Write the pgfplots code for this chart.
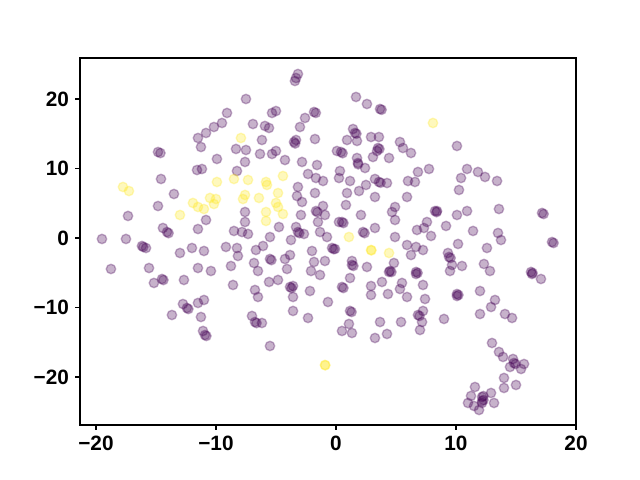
\documentclass[border=0pt]{standalone}
\usepackage{pgfplots}
\pgfplotsset{compat=1.18}
\usepackage{pgfplotstable}
\usepackage{fontspec}
\setmainfont{Liberation Sans}
\definecolor{vpurple}{HTML}{440154}
\definecolor{vyellow}{HTML}{FDE725}
\pgfplotstableread{
x y
-3.17 23.60
-3.33 23.02
-3.42 22.59
-7.50 20.00
-9.08 17.99
-14.83 12.37
-14.63 12.22
-11.50 14.39
-10.83 15.11
-11.25 13.09
-11.58 9.78
-11.17 9.93
-14.58 8.49
-9.50 16.55
-10.17 15.97
-6.92 16.40
-5.92 16.12
-5.58 15.83
-5.33 17.99
-5.00 18.27
-1.83 18.13
-1.68 18.00
-2.58 17.27
-3.00 15.97
-3.50 13.81
-3.40 13.60
-3.33 14.10
-1.75 14.24
-6.17 14.10
-8.33 12.81
-7.50 12.66
-6.33 12.09
-5.33 12.09
-5.00 12.52
-4.25 11.22
-9.92 11.37
-7.58 10.94
-8.25 9.64
-2.83 10.94
-1.58 10.50
-2.33 9.21
-1.67 8.63
-1.08 8.20
1.67 20.29
2.58 19.28
3.67 18.56
3.80 18.45
1.42 15.68
1.58 15.11
1.70 15.00
0.92 14.10
1.75 13.96
2.92 14.53
3.58 14.53
5.33 13.81
5.58 12.95
6.25 12.23
3.50 12.95
3.62 12.80
3.42 12.52
3.08 11.65
4.42 11.51
0.08 12.52
0.42 12.37
0.55 12.20
1.75 11.51
1.83 10.79
1.85 10.60
2.42 10.07
0.33 9.64
0.25 8.63
1.17 8.20
3.25 8.49
3.58 8.06
3.72 7.95
4.25 7.91
6.00 8.20
6.58 8.06
6.83 9.50
7.75 9.93
10.08 13.24
10.92 9.93
11.83 9.50
12.42 8.78
13.42 8.20
10.42 8.63
-13.50 6.33
-14.83 4.60
-17.33 3.17
-14.42 1.44
-14.08 0.86
-13.95 0.70
-11.50 1.29
-10.83 2.59
-19.50 -0.14
-17.50 -0.14
-16.17 -1.15
-16.05 -1.30
-15.83 -1.44
-13.00 -2.16
-12.00 -1.44
-11.00 -1.87
-18.75 -4.46
-15.58 -4.32
-11.50 -4.32
-14.50 -5.90
-14.38 -6.05
-15.17 -6.47
-12.67 -6.04
-12.75 -9.50
-11.50 -9.35
-11.00 -8.92
-3.17 7.34
-3.25 6.04
-2.83 5.18
-1.75 6.47
-1.08 4.60
-1.67 3.88
-1.55 3.72
-2.92 3.31
-1.50 2.30
-0.92 3.31
-7.58 3.74
-7.58 2.30
-8.50 1.01
-7.83 0.86
-7.33 0.58
-4.75 1.58
-5.50 0.14
-3.33 1.58
-3.17 0.86
-3.05 0.70
-2.67 0.58
-1.33 0.86
-0.75 0.14
-3.75 -0.29
-9.17 -1.29
-8.25 -1.44
-8.17 -2.59
-6.67 -1.73
-6.08 -1.15
-2.00 -1.87
-4.25 -3.02
-3.83 -2.45
-5.50 -3.02
-5.38 -3.18
-6.83 -3.60
-8.75 -4.03
-6.50 -4.75
-4.08 -4.46
-1.83 -3.45
-0.92 -3.31
-2.08 -4.75
-1.33 -5.32
-10.42 -4.75
-5.58 -6.33
-4.83 -6.04
-3.83 -7.05
-3.70 -7.20
-3.58 -6.91
-8.58 -6.76
-6.75 -7.48
-6.50 -8.49
-3.58 -8.49
-2.17 -7.63
-0.67 -9.21
1.92 6.76
2.50 7.63
0.92 6.47
3.25 5.90
5.92 5.90
0.83 4.75
4.92 4.46
4.67 3.74
4.92 2.59
2.08 3.31
0.25 2.30
0.50 2.30
0.62 2.15
8.25 3.88
8.38 3.72
8.42 3.88
7.58 2.30
7.33 1.44
6.75 1.15
7.92 0.29
9.17 1.73
3.25 1.44
2.25 0.86
2.38 0.70
4.92 0.14
-0.33 -1.44
-0.20 -1.60
-0.08 -1.58
5.92 -1.01
6.67 -1.29
6.25 -2.45
7.25 -1.73
9.33 -2.16
9.42 -2.73
9.55 -2.88
9.67 -3.88
9.50 -4.75
1.33 -3.31
1.33 -3.88
1.45 -4.02
2.58 -4.17
4.83 -3.60
4.50 -4.75
4.62 -4.90
4.42 -4.89
6.67 -4.89
6.80 -5.02
6.67 -5.18
1.17 -5.76
3.83 -6.33
5.50 -6.47
7.25 -6.76
0.50 -7.05
0.62 -7.20
2.92 -6.91
5.33 -7.34
4.33 -8.06
2.92 -8.20
5.92 -8.49
7.42 -8.78
10.25 6.91
17.17 3.60
17.30 3.45
10.08 3.31
10.92 3.88
13.58 4.17
11.42 1.01
13.50 0.72
13.75 -0.29
18.00 -0.58
18.13 -0.72
10.17 -0.86
12.58 -1.44
10.50 -4.03
12.33 -3.74
12.83 -4.75
16.25 -4.89
16.38 -5.03
16.33 -5.18
17.08 -5.90
10.08 -8.06
10.20 -8.20
10.08 -8.35
12.00 -7.63
13.25 -8.92
-13.67 -11.08
-12.42 -10.07
-12.30 -10.22
-11.25 -11.37
-11.08 -13.38
-10.92 -13.96
-10.80 -14.10
-7.00 -11.22
-6.75 -12.09
-6.62 -12.24
-6.17 -12.23
-5.50 -15.54
-3.58 -10.50
-2.33 -11.51
1.17 -10.50
1.30 -10.65
1.08 -12.37
0.50 -13.38
1.33 -13.67
3.67 -12.09
3.25 -14.39
4.25 -13.81
5.42 -12.09
6.83 -11.08
6.96 -11.22
7.25 -10.50
7.17 -12.09
7.00 -13.24
9.00 -11.65
12.92 -9.93
12.00 -10.94
14.08 -10.94
14.67 -11.51
13.00 -15.11
13.58 -16.40
13.92 -17.12
14.75 -17.41
14.83 -17.99
14.96 -18.12
15.67 -18.13
14.50 -18.56
15.42 -18.85
14.00 -20.14
15.00 -21.15
14.00 -21.58
11.58 -21.44
12.92 -22.30
11.25 -22.73
12.17 -22.88
12.29 -22.75
12.17 -23.45
12.29 -23.32
12.17 -23.74
11.00 -23.74
11.50 -24.17
13.17 -23.74
11.92 -24.75
}\purpledata
\pgfplotstableread{
x y
8.08 16.55
-7.92 14.39
-4.42 8.92
-5.83 8.06
-5.75 7.63
-7.33 8.35
-8.50 8.49
-9.92 8.06
-17.75 7.34
-17.25 6.76
-11.92 5.04
-11.50 4.46
-11.00 4.17
-13.00 3.31
-10.50 5.76
-10.00 5.61
-10.17 4.89
-7.58 6.19
-7.75 5.61
-6.42 5.76
-4.83 6.47
-5.00 5.04
-4.83 4.46
-5.83 3.74
-4.42 3.45
-5.83 2.45
1.08 0.14
2.92 -1.73
2.95 -1.78
4.42 -2.16
-0.92 -18.27
-0.89 -18.32
}\yellowdata
\begin{document}
\begin{tikzpicture}
\path[use as bounding box] (0,0) rectangle (460.8bp,345.6bp);
\begin{axis}[
  at={(57.6bp,39.6bp)}, anchor=south west,
  scale only axis, width=357.12bp, height=264.24bp,
  xmin=-21.33, xmax=20, ymin=-26.91, ymax=25.9,
  xtick={-20,-10,0,10,20},
  xticklabels={−20,−10,0,10,20},
  ytick={-20,-10,0,10,20},
  yticklabels={−20,−10,0,10,20},
  tick align=outside,
  xtick pos=bottom, ytick pos=left,
  major tick length=3.5bp,
  every tick/.style={black, line width=0.8bp},
  axis line style={line width=0.8bp},
  ticklabel style={font=\fontsize{15}{17}\selectfont\bfseries},
  xticklabel style={yshift=-1bp},
  yticklabel style={xshift=-1bp},
]
\addplot[only marks, mark=*, mark size=3.4bp,
  mark options={fill=vpurple, draw=vpurple, fill opacity=0.3, draw opacity=0.3, line width=1bp}]
  table {\purpledata};
\addplot[only marks, mark=*, mark size=3.4bp,
  mark options={fill=vyellow, draw=vyellow, fill opacity=0.3, draw opacity=0.3, line width=1bp}]
  table {\yellowdata};
\end{axis}
\end{tikzpicture}
\end{document}
